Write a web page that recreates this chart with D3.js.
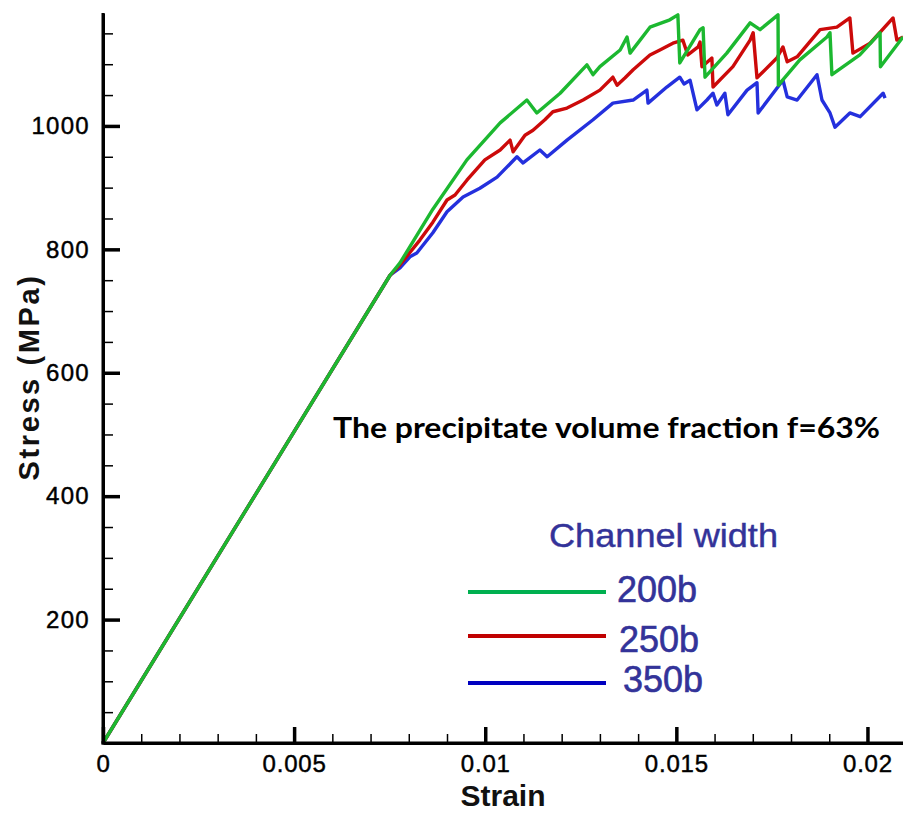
<!DOCTYPE html>
<html><head><meta charset="utf-8">
<script src="https://cdn.jsdelivr.net/npm/d3@7"></script>
<style>body{margin:0;background:#fff}svg{display:block}</style>
</head><body><svg id="c" width="903" height="815"></svg>
<script>
// ---- data ----
const strain200 = [0,0.00751,0.00777,0.00863,0.00952,0.01039,0.01109,0.01135,0.01196,0.01266,0.01282,0.01300,0.01353,0.01371,0.01379,0.01431,0.01483,0.01504,0.01509,0.01562,0.01570,0.01575,0.01632,0.01693,0.01719,0.01766,0.01767,0.01823,0.01894,0.01902,0.01907,0.01980,0.02033,0.02034,0.02093];
const stress200 = [0,758,778,865,945,1005,1042,1021,1053,1099,1083,1096,1123,1144,1118,1160,1172,1180,1102,1156,1159,1079,1118,1167,1156,1180,1066,1107,1144,1151,1083,1115,1151,1096,1144];

const strain250 = [0,0.00751,0.00777,0.00829,0.00863,0.00900,0.00921,0.00952,0.00999,0.01039,0.01065,0.01073,0.01104,0.01125,0.01156,0.01177,0.01214,0.01256,0.01300,0.01334,0.01345,0.01366,0.01387,0.01431,0.01457,0.01491,0.01517,0.01530,0.01557,0.01562,0.01567,0.01593,0.01596,0.01648,0.01693,0.01701,0.01711,0.01763,0.01779,0.01790,0.01816,0.01876,0.01920,0.01954,0.01962,0.02007,0.02067,0.02077,0.02093];
const stress250 = [0,758,775,815,844,880,888,912,945,961,977,958,985,993,1010,1023,1029,1042,1058,1079,1066,1078,1091,1115,1123,1134,1139,1115,1128,1136,1096,1110,1063,1096,1139,1151,1078,1110,1128,1104,1112,1156,1160,1175,1118,1134,1175,1139,1144];

const strain350 = [0,0.00751,0.00777,0.00803,0.00821,0.00863,0.00900,0.00942,0.00986,0.01031,0.01083,0.01099,0.01143,0.01162,0.01214,0.01282,0.01334,0.01387,0.01423,0.01426,0.01475,0.01509,0.01520,0.01536,0.01554,0.01580,0.01596,0.01606,0.01627,0.01635,0.01685,0.01711,0.01714,0.01779,0.01790,0.01816,0.01868,0.01881,0.01902,0.01915,0.01954,0.01981,0.02041,0.02046];
const stress350 = [0,758,770,788,794,827,861,885,899,917,950,940,961,950,977,1010,1037,1042,1058,1037,1063,1079,1068,1074,1026,1042,1053,1034,1053,1018,1058,1070,1021,1074,1047,1042,1083,1042,1021,998,1021,1015,1053,1045];

const seriesNames = ["200b","250b","350b"];
const seriesColors = ["#1cb830","#cc0a0a","#2430dd"];
const legendColors = ["#00b050","#c00000","#0000c0"];
const yTickValues = [200,400,600,800,1000];
const yTickLabels = ["200","400","600","800","1000"];
const xTickValues = [0,0.005,0.01,0.015,0.02];
const xTickLabels = ["0","0.005","0.01","0.015","0.02"];
const xTitle = "Strain";
const yTitle = "Stress (MPa)";
const noteText = "The precipitate volume fraction f=63%";
const legendTitle = "Channel width";

// ---- drawing ----
const svg = d3.select("#c");
const x = d3.scaleLinear().domain([0, 0.02093]).range([103, 903]);
const y = d3.scaleLinear().domain([0, 1183]).range([743, 13]);

const series = [
  {name: seriesNames[0], color: seriesColors[0], pts: d3.zip(strain200, stress200)},
  {name: seriesNames[1], color: seriesColors[1], pts: d3.zip(strain250, stress250)},
  {name: seriesNames[2], color: seriesColors[2], pts: d3.zip(strain350, stress350)}
];

const line = d3.line().x(d => x(d[0])).y(d => y(d[1]));
const drawOrder = [2,1,0];
svg.append("g").selectAll("path").data(drawOrder.map(i => series[i])).join("path")
  .attr("d", d => line(d.pts))
  .attr("fill","none")
  .attr("stroke", d => d.color)
  .attr("stroke-width", 3.4)
  .attr("stroke-linejoin","round");

const axisFont = "'Liberation Sans', Arial, sans-serif";

// minor ticks
const yMinor = d3.range(50, 1181, 50).filter(v => v % 200 !== 0);
svg.append("g").attr("transform","translate(103,0)")
  .call(d3.axisLeft(y).tickValues(yMinor).tickSize(-10).tickFormat(""))
  .call(g => g.select(".domain").remove())
  .call(g => g.selectAll("line").attr("stroke","#000").attr("stroke-width",1.5));
const xMinor = d3.range(1, 21).map(i => i*0.001).filter((v,i) => (i+1) % 5 !== 0);
svg.append("g").attr("transform","translate(0,743)")
  .call(d3.axisBottom(x).tickValues(xMinor).tickSize(-9).tickFormat(""))
  .call(g => g.select(".domain").remove())
  .call(g => g.selectAll("line").attr("stroke","#000").attr("stroke-width",1.5));

// major axes
const yAxis = svg.append("g").attr("transform","translate(103,0)")
  .call(d3.axisLeft(y).tickValues(yTickValues).tickSize(-17).tickSizeOuter(0).tickPadding(13)
    .tickFormat((d,i) => yTickLabels[i]));
yAxis.select(".domain").attr("stroke","#000").attr("stroke-width",3);
yAxis.selectAll(".tick line").attr("stroke","#000").attr("stroke-width",3.5);
yAxis.selectAll(".tick text").attr("fill","#000").attr("stroke","#000").attr("stroke-width",0.45)
  .style("font-family",axisFont).style("font-size","24px").style("letter-spacing","1.3px");

const xAxis = svg.append("g").attr("transform","translate(0,743)")
  .call(d3.axisBottom(x).tickValues(xTickValues).tickSize(-16).tickSizeOuter(0).tickPadding(12)
    .tickFormat((d,i) => xTickLabels[i]));
xAxis.select(".domain").attr("stroke","#000").attr("stroke-width",3);
xAxis.selectAll(".tick line").attr("stroke","#000").attr("stroke-width",3.5);
xAxis.selectAll(".tick text").attr("fill","#000").attr("stroke","#000").attr("stroke-width",0.45)
  .style("font-family",axisFont).style("font-size","24px").style("letter-spacing","0.8px");
// axis lines meet exactly at origin / extend to edges
svg.append("line").attr("x1",103).attr("x2",103).attr("y1",y.range()[1]).attr("y2",744.5)
  .attr("stroke","#000").attr("stroke-width",3);
svg.append("line").attr("x1",101.5).attr("x2",903).attr("y1",743).attr("y2",743)
  .attr("stroke","#000").attr("stroke-width",3);

// axis titles
svg.append("text").attr("x",503).attr("y",806).attr("text-anchor","middle")
  .style("font-family",axisFont).style("font-weight","bold").style("font-size","30px")
  .attr("fill","#111").text(xTitle);
svg.append("text").attr("transform","translate(39,377) rotate(-90)").attr("text-anchor","middle")
  .style("font-family",axisFont).style("font-weight","bold").style("font-size","29px")
  .style("letter-spacing","2.6px").attr("fill","#111").text(yTitle);

// annotation
svg.append("text").attr("x",333).attr("y",438)
  .style("font-family","Lato, 'Open Sans', sans-serif").style("font-weight","bold").style("font-size","28px")
  .attr("textLength",547).attr("lengthAdjust","spacingAndGlyphs")
  .attr("fill","#000").text(noteText);

// legend
const legendColor = "#333399";
svg.append("text").attr("x",549).attr("y",547)
  .style("font-family",axisFont).style("font-size","33px")
  .attr("stroke",legendColor).attr("stroke-width",0.4)
  .attr("textLength",229).attr("lengthAdjust","spacingAndGlyphs")
  .attr("fill",legendColor).text(legendTitle);
const legY = [592, 636, 683];
const legTextX = [617, 619, 623];
const legTextY = [602, 652, 692];
const lg = svg.append("g");
series.forEach((s,i) => {
  lg.append("line").attr("x1",468).attr("x2",606).attr("y1",legY[i]).attr("y2",legY[i])
    .attr("stroke",legendColors[i]).attr("stroke-width",4);
  lg.append("text").attr("x",legTextX[i]).attr("y",legTextY[i])
    .style("font-family",axisFont).style("font-size","36px")
    .attr("stroke",legendColor).attr("stroke-width",0.6)
    .attr("fill",legendColor).text(s.name);
});
</script>
</body></html>
